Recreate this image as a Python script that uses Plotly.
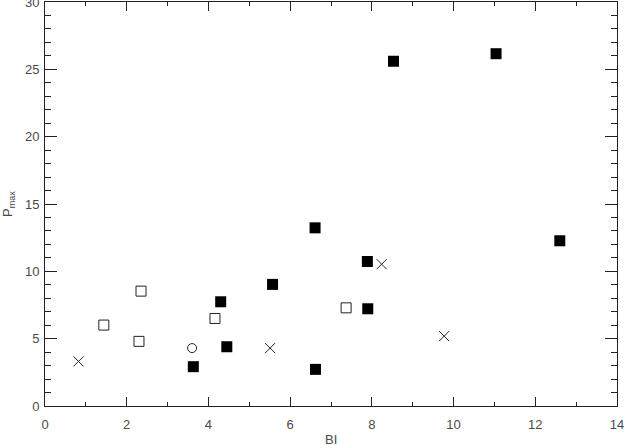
import plotly.graph_objects as go

# BI vs Pmax, grouped by symbol
filled_bi = [3.63, 4.30, 4.45, 5.57, 6.61, 7.89, 7.90, 6.62, 12.60, 11.04, 8.53]
filled_pmax = [2.92, 7.74, 4.40, 9.03, 13.23, 10.73, 7.22, 2.72, 12.27, 26.16, 25.6]

open_bi = [2.35, 1.44, 2.30, 4.16, 7.37]
open_pmax = [8.53, 6.01, 4.80, 6.50, 7.29]

cross_bi = [0.82, 5.51, 8.24, 9.77]
cross_pmax = [3.31, 4.30, 10.53, 5.19]

circle_bi = [3.60]
circle_pmax = [4.30]

INK = "#222222"
TEXT = "#4a4a4a"
FONT = dict(family="Liberation Sans", size=13, color=TEXT)

fig = go.Figure()

fig.add_trace(go.Scatter(x=filled_bi, y=filled_pmax, mode="markers",
                         marker=dict(symbol="square", size=11, color="black",
                                     line=dict(width=0))))
fig.add_trace(go.Scatter(x=open_bi, y=open_pmax, mode="markers",
                         marker=dict(symbol="square-open", size=10,
                                     color=INK, line=dict(width=1))))
fig.add_trace(go.Scatter(x=cross_bi, y=cross_pmax, mode="markers",
                         marker=dict(symbol="x-thin-open", size=10,
                                     color=INK, line=dict(width=1))))
fig.add_trace(go.Scatter(x=circle_bi, y=circle_pmax, mode="markers",
                         marker=dict(symbol="circle-open", size=9,
                                     color=INK, line=dict(width=1))))

axis_common = dict(
    showgrid=False, zeroline=False, showline=True, linecolor=INK, linewidth=1,
    mirror="allticks", ticks="inside", tickcolor=INK, tickwidth=1,
    tickfont=FONT, automargin=False, ticklabeloverflow="allow",
)

fig.update_xaxes(range=[0, 14], dtick=2, ticklen=9, ticklabelstandoff=6,
                 minor=dict(dtick=1, ticklen=4, ticks="inside", tickcolor=INK),
                 **axis_common)
fig.update_yaxes(range=[0, 30], dtick=5, ticklen=12, ticklabelstandoff=2,
                 minor=dict(dtick=1, ticklen=6, ticks="inside", tickcolor=INK),
                 **axis_common)

# axis titles placed like the original
fig.add_annotation(text="BI", xref="paper", yref="paper", x=0.5, y=0,
                   yshift=-33, showarrow=False, font=FONT, yanchor="middle")
fig.add_annotation(text="P<sub>max</sub>", xref="paper", yref="paper", x=0, y=0.5,
                   xshift=-37, showarrow=False, font=FONT, textangle=-90,
                   xanchor="center")

fig.update_layout(
    width=624, height=445,
    margin=dict(l=45, r=7, t=2, b=39),
    plot_bgcolor="white", paper_bgcolor="white",
    showlegend=False,
)

# drop the browser's default body margin so the figure sits at 0,0
fig.write_html("out.html", config={"displayModeBar": False},
               post_script="document.body.style.margin='0';"
               "document.body.style.overflow='hidden';")
